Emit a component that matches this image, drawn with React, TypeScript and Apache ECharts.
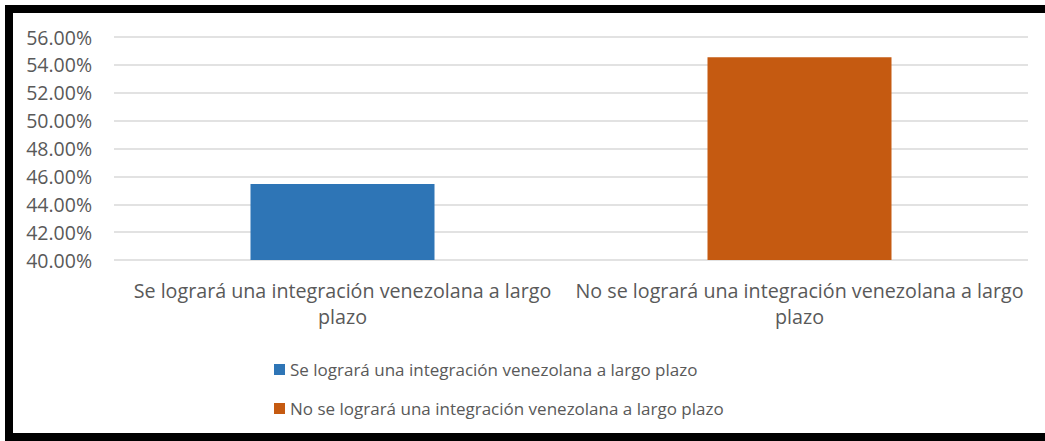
import React, { useEffect, useRef } from "react";
import * as echarts from "echarts";

const categories = [
  "Se logrará una integración venezolana a largo plazo",
  "No se logrará una integración venezolana a largo plazo",
];
const values = [45.45, 54.55];
const colors = ["#2E75B6", "#C55A11"];
const yMin = 40;
const yMax = 56;
const yStep = 2;

export default function App() {
  const ref = useRef<HTMLDivElement>(null);
  useEffect(() => {
    if (!ref.current) return;
    const chart = echarts.init(ref.current, null, { renderer: "svg" });
    const font = "'Open Sans', sans-serif";
    chart.setOption({
      animation: false,
      grid: { left: 114, right: 17, top: 37, bottom: 181 },
      legend: {
        orient: "vertical",
        left: 269,
        top: 356,
        itemWidth: 11,
        itemHeight: 11,
        itemGap: 22,
        icon: "rect",
        textStyle: { fontFamily: font, fontSize: 17, color: "#595959" },
        data: categories,
      },
      xAxis: {
        type: "category",
        data: categories,
        axisLine: { show: false },
        axisTick: { show: false },
        axisLabel: {
          interval: 0,
          margin: 17,
          fontFamily: font,
          fontSize: 19.7,
          color: "#595959",
          lineHeight: 26,
          formatter: (v: string) => v.replace(/ plazo$/, "\nplazo"),
        },
      },
      yAxis: {
        type: "value",
        min: yMin,
        max: yMax,
        interval: yStep,
        axisLine: { show: false },
        axisTick: { show: false },
        splitLine: { lineStyle: { color: "#D9D9D9", width: 1.5 } },
        axisLabel: {
          margin: 22,
          fontFamily: font,
          fontSize: 19.5,
          color: "#595959",
          formatter: (v: number) => v.toFixed(2) + "%",
        },
      },
      series: categories.map((name, i) => ({
        name,
        type: "bar",
        stack: "s",
        barWidth: 184,
        itemStyle: { color: colors[i] },
        data: values.map((v, j) => (j === i ? v : "-")),
      })),
      graphic: [
        {
          type: "rect",
          shape: { x: 9, y: 9, width: 1100, height: 428 },
          style: { fill: "none", stroke: "#000", lineWidth: 8 },
          silent: true,
        },
      ],
    });
    return () => chart.dispose();
  }, []);
  return (
    <div
      ref={ref}
      style={{ position: "fixed", left: 0, top: 0, width: 1045, height: 441, background: "#fff" }}
    />
  );
}
